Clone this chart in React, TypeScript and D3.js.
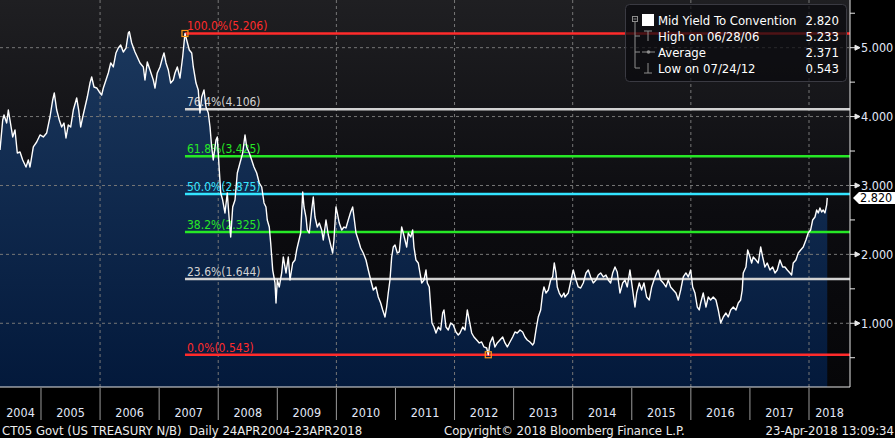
import { useEffect, useRef } from "react"
import * as d3 from "d3"

// Decimal year of every reading, 24 Apr 2004 .. 23 Apr 2018
const yearFrac = [
  2004.306, 2004.352, 2004.374, 2004.419, 2004.447, 2004.475, 2004.521, 2004.56, 2004.599, 2004.645,
  2004.69, 2004.746, 2004.785, 2004.814, 2004.87, 2004.927, 2004.983, 2005.039, 2005.096, 2005.152,
  2005.198, 2005.225, 2005.266, 2005.31, 2005.35, 2005.389, 2005.423, 2005.462, 2005.503, 2005.547,
  2005.604, 2005.638, 2005.672, 2005.706, 2005.745, 2005.784, 2005.829, 2005.858, 2005.897, 2005.943,
  2005.987, 2006.027, 2006.055, 2006.1, 2006.139, 2006.18, 2006.224, 2006.269, 2006.308, 2006.349,
  2006.393, 2006.439, 2006.478, 2006.495, 2006.535, 2006.591, 2006.63, 2006.676,
  2006.732, 2006.76, 2006.799, 2006.845, 2006.901, 2006.93, 2006.968, 2007.014, 2007.06, 2007.082,
  2007.116, 2007.155, 2007.195, 2007.239, 2007.268, 2007.307, 2007.353, 2007.398, 2007.437, 2007.466,
  2007.51, 2007.551, 2007.578, 2007.624, 2007.662, 2007.691, 2007.72, 2007.759, 2007.793, 2007.832,
  2007.861, 2007.889, 2007.916, 2007.962, 2007.984, 2008.018, 2008.042, 2008.075, 2008.114, 2008.153,
  2008.187, 2008.211, 2008.245, 2008.284, 2008.323, 2008.368, 2008.414, 2008.453, 2008.482, 2008.526,
  2008.566, 2008.605, 2008.651, 2008.695, 2008.736, 2008.775, 2008.808, 2008.83, 2008.864, 2008.888,
  2008.922, 2008.961, 2008.978, 2009.0, 2009.033, 2009.074,
  2009.101, 2009.147, 2009.186, 2009.215, 2009.26, 2009.299, 2009.328, 2009.355, 2009.396, 2009.43,
  2009.452, 2009.485, 2009.507, 2009.541, 2009.582, 2009.609, 2009.638, 2009.677, 2009.711, 2009.751,
  2009.778, 2009.824, 2009.863, 2009.903, 2009.937, 2009.959, 2009.993, 2010.015, 2010.049, 2010.09,
  2010.129, 2010.162, 2010.201, 2010.242, 2010.276, 2010.298, 2010.332, 2010.371, 2010.411, 2010.455,
  2010.501, 2010.54, 2010.581, 2010.625, 2010.67, 2010.709, 2010.75, 2010.784, 2010.823, 2010.851,
  2010.878, 2010.907, 2010.936, 2010.963, 2010.992, 2011.031, 2011.065, 2011.105, 2011.132, 2011.161,
  2011.19, 2011.217, 2011.258, 2011.291, 2011.313, 2011.347, 2011.386, 2011.415,
  2011.444, 2011.483, 2011.517, 2011.539, 2011.572, 2011.596, 2011.618, 2011.652, 2011.686, 2011.725,
  2011.765, 2011.799, 2011.821, 2011.855, 2011.894, 2011.935, 2011.979, 2012.024, 2012.063, 2012.092,
  2012.138, 2012.177, 2012.216, 2012.249, 2012.29, 2012.329, 2012.375, 2012.419, 2012.459, 2012.498,
  2012.544, 2012.571, 2012.6, 2012.645, 2012.684, 2012.723, 2012.769, 2012.815, 2012.854, 2012.893,
  2012.938, 2012.984, 2013.023, 2013.062, 2013.108, 2013.153, 2013.192, 2013.231, 2013.277, 2013.323,
  2013.345, 2013.378, 2013.417, 2013.458, 2013.492, 2013.514, 2013.548, 2013.587, 2013.627, 2013.661,
  2013.688, 2013.717, 2013.739, 2013.773, 2013.813, 2013.852,
  2013.869, 2013.925, 2013.983, 2014.01, 2014.055, 2014.094, 2014.135, 2014.179, 2014.225, 2014.264,
  2014.304, 2014.348, 2014.394, 2014.433, 2014.473, 2014.518, 2014.563, 2014.602, 2014.643, 2014.677,
  2014.716, 2014.754, 2014.8, 2014.846, 2014.885, 2014.924, 2014.969, 2015.015, 2015.054, 2015.083,
  2015.127, 2015.167, 2015.206, 2015.252, 2015.296, 2015.337, 2015.376, 2015.421, 2015.448, 2015.489,
  2015.533, 2015.579, 2015.618, 2015.658, 2015.702, 2015.748, 2015.787, 2015.828, 2015.872, 2015.917,
  2015.956, 2015.997, 2016.031, 2016.07, 2016.109, 2016.142,
  2016.166, 2016.21, 2016.256, 2016.295, 2016.335, 2016.379, 2016.425, 2016.464, 2016.505, 2016.549,
  2016.594, 2016.633, 2016.674, 2016.718, 2016.764, 2016.803, 2016.843, 2016.87, 2016.887, 2016.933,
  2016.962, 2017.001, 2017.029, 2017.056, 2017.102, 2017.141, 2017.182, 2017.216, 2017.254, 2017.293,
  2017.339, 2017.385, 2017.424, 2017.463, 2017.508, 2017.554, 2017.593, 2017.632, 2017.678, 2017.706,
  2017.733, 2017.779, 2017.818, 2017.859, 2017.903, 2017.948, 2017.987, 2018.028, 2018.062, 2018.101,
  2018.13, 2018.157, 2018.185, 2018.214, 2018.241, 2018.27, 2018.299, 2018.309,
]

// Mid yield (%) at each reading
const yields = [
  3.515, 3.95, 4.023, 3.907, 4.095, 3.95, 3.704, 3.805, 3.471, 3.486,
  3.37, 3.268, 3.37, 3.268, 3.559, 3.631, 3.733, 3.704, 3.762, 3.994,
  4.241, 4.342, 4.095, 3.95, 3.849, 3.907, 3.689, 3.878, 3.849, 4.095,
  4.27, 4.095, 3.849, 3.994, 4.139, 4.284, 4.487, 4.574, 4.429, 4.415,
  4.357, 4.313, 4.415, 4.531, 4.633, 4.778, 4.72, 4.923, 4.995, 5.039,
  4.937, 4.995, 5.213, 5.233, 5.068, 4.937, 4.865, 4.778,
  4.72, 4.531, 4.792, 4.676, 4.531, 4.415, 4.633, 4.72, 4.865, 4.923,
  4.778, 4.676, 4.487, 4.531, 4.633, 4.72, 4.56, 4.865, 5.206, 5.111,
  4.966, 4.923, 4.72, 4.487, 4.386, 4.052, 4.284, 4.386, 4.139, 4.052,
  3.849, 3.559, 3.37, 3.66, 3.704, 3.225, 2.891, 2.789, 2.601, 2.891,
  2.499, 2.252, 2.688, 2.789, 3.181, 3.326, 3.471, 3.733, 3.559, 3.471,
  3.37, 3.268, 3.181, 3.036, 2.978, 2.746, 2.688, 2.499, 2.397, 2.165,
  1.773, 1.585, 1.294, 1.628, 1.527, 1.73,
  1.962, 1.73, 1.962, 1.628, 1.875, 1.918, 2.064, 2.165, 2.31, 2.905,
  2.688, 2.542, 2.354, 2.31, 2.644, 2.833, 2.542, 2.397, 2.455, 2.354,
  2.209, 2.499, 2.281, 2.136, 2.02, 2.209, 2.688, 2.601, 2.455, 2.354,
  2.397, 2.383, 2.499, 2.615, 2.688, 2.542, 2.31, 2.209, 2.093, 2.02,
  1.918, 1.773, 1.628, 1.483, 1.527, 1.381, 1.294, 1.193, 1.091, 1.236,
  1.439, 1.628, 1.962, 2.107, 2.136, 2.02, 2.035, 2.397, 2.31, 2.209,
  2.107, 2.31, 2.252, 2.354, 2.107, 1.918, 1.875, 1.73,
  1.585, 1.628, 1.773, 1.585, 1.527, 1.236, 1.004, 0.946, 0.859, 0.946,
  0.902, 1.149, 1.193, 0.946, 0.902, 1.004, 0.975, 0.873, 0.83, 0.859,
  0.946, 0.902, 1.193, 1.047, 0.859, 0.801, 0.757, 0.714, 0.728, 0.656,
  0.641, 0.543, 0.714, 0.801, 0.656, 0.714, 0.757, 0.801, 0.714, 0.656,
  0.728, 0.801, 0.873, 0.859, 0.902, 0.873, 0.801, 0.757, 0.728, 0.685,
  0.714, 0.902, 1.091, 1.193, 1.439, 1.527, 1.439, 1.483, 1.628, 1.672,
  1.875, 1.73, 1.527, 1.439, 1.381, 1.439,
  1.381, 1.439, 1.672, 1.773, 1.628, 1.527, 1.512, 1.585, 1.73, 1.773,
  1.672, 1.585, 1.628, 1.701, 1.73, 1.672, 1.701, 1.628, 1.585, 1.73,
  1.817, 1.744, 1.439, 1.585, 1.628, 1.527, 1.773, 1.483, 1.236, 1.439,
  1.585, 1.483, 1.585, 1.381, 1.338, 1.527, 1.628, 1.73, 1.773, 1.628,
  1.585, 1.527, 1.628, 1.527, 1.483, 1.439, 1.338, 1.483, 1.672, 1.73,
  1.672, 1.773, 1.527, 1.439, 1.236, 1.193,
  1.294, 1.439, 1.236, 1.381, 1.338, 1.381, 1.338, 1.193, 1.004, 1.091,
  1.149, 1.091, 1.193, 1.236, 1.193, 1.294, 1.338, 1.483, 1.73, 1.817,
  2.064, 1.962, 1.875, 1.962, 1.918, 1.875, 2.107, 1.962, 1.817, 1.875,
  1.773, 1.817, 1.73, 1.773, 1.918, 1.817, 1.817, 1.773, 1.73, 1.701,
  1.875, 1.918, 2.02, 2.064, 2.107, 2.209, 2.31, 2.354, 2.499, 2.542,
  2.644, 2.601, 2.673, 2.615, 2.644, 2.601, 2.717, 2.82,
]

const xDomain = [2004.306, 2018.694]
const yDomain = [0.075, 5.692]
const years = [2004, 2005, 2006, 2007, 2008, 2009, 2010, 2011, 2012, 2013, 2014, 2015, 2016, 2017, 2018]
const gridYears = [2006, 2008, 2010, 2012, 2014, 2016, 2018]
const yTicks = [1, 2, 3, 4, 5]
const yMinorTicks = [0.5, 1.5, 2.5, 3.5, 4.5, 5.5]

// Fibonacci retracement from the 2007 high to the 2012 low
const fibRatios = ["100.0%", "76.4%", "61.8%", "50.0%", "38.2%", "23.6%", "0.0%"]
const fibValues = [5.206, 4.106, 3.425, 2.875, 2.325, 1.644, 0.543]
const fibColors = ["#ff2b2b", "#d2d2d2", "#26e826", "#33e4ff", "#26e826", "#d2d2d2", "#ff2b2b"]
const fibAnchors = [
  { t: 2007.437, v: 5.206 },
  { t: 2012.571, v: 0.543 },
]

const legendLabels = ["Mid Yield To Convention", "High on 06/28/06", "Average", "Low on 07/24/12"]
const legendValues = ["2.820", "5.233", "2.371", "0.543"]
const lastValue = 2.82

const FONT = "'DejaVu Sans Condensed', 'DejaVu Sans', sans-serif"
const AXIS_TEXT = "#e2e8f8"

export default function App() {
  const svgRef = useRef<SVGSVGElement>(null)

  useEffect(() => {
    if (!svgRef.current) return
    const svg = d3.select(svgRef.current)
    svg.selectAll("*").remove()

    const width = 850
    const height = 387
    const x = d3.scaleLinear().domain(xDomain).range([0, width])
    const y = d3.scaleLinear().domain(yDomain).range([height, 0])
    const data = d3.zip(yearFrac, yields)

    svg.append("rect").attr("width", 895).attr("height", 438).attr("fill", "#000")

    const defs = svg.append("defs")
    const bg = defs.append("linearGradient").attr("id", "bgGrad").attr("x1", 0).attr("y1", 0).attr("x2", 0).attr("y2", 1)
    bg.append("stop").attr("offset", 0).attr("stop-color", "#1f1f22")
    bg.append("stop").attr("offset", 0.55).attr("stop-color", "#0c0c10")
    bg.append("stop").attr("offset", 1).attr("stop-color", "#060608")

    const ag = defs
      .append("linearGradient")
      .attr("id", "areaGrad")
      .attr("gradientUnits", "userSpaceOnUse")
      .attr("x1", 0)
      .attr("y1", 0)
      .attr("x2", 0)
      .attr("y2", height)
    ag.append("stop").attr("offset", 0).attr("stop-color", "#1d3a60")
    ag.append("stop").attr("offset", 1).attr("stop-color", "#03193b")

    defs.append("clipPath").attr("id", "plotClip").append("rect").attr("width", width).attr("height", height)

    // Plot background
    svg.append("rect").attr("width", width).attr("height", height).attr("fill", "url(#bgGrad)")

    const plot = svg.append("g").attr("clip-path", "url(#plotClip)")

    // Area under the yield
    const area = d3
      .area<[number, number]>()
      .x((d) => x(d[0]))
      .y0(height)
      .y1((d) => y(d[1]))
    plot.append("path").datum(data).attr("d", area).attr("fill", "url(#areaGrad)")

    // Dashed grid
    const gridColor = "#777"
    plot
      .selectAll(".hgrid")
      .data(yTicks)
      .enter()
      .append("line")
      .attr("x1", 0)
      .attr("x2", width)
      .attr("y1", (d) => y(d))
      .attr("y2", (d) => y(d))
      .attr("stroke", gridColor)
      .attr("stroke-dasharray", "3,3")
    plot
      .selectAll(".vgrid")
      .data(gridYears)
      .enter()
      .append("line")
      .attr("x1", (d) => x(d))
      .attr("x2", (d) => x(d))
      .attr("y1", 0)
      .attr("y2", height)
      .attr("stroke", gridColor)
      .attr("stroke-dasharray", "3,3")

    // Fibonacci levels
    const fibStart = x(fibAnchors[0].t)
    fibValues.forEach((v, i) => {
      plot
        .append("line")
        .attr("x1", fibStart)
        .attr("x2", width)
        .attr("y1", y(v))
        .attr("y2", y(v))
        .attr("stroke", fibColors[i])
        .attr("stroke-width", 2.5)
      plot
        .append("text")
        .attr("x", fibStart + 2)
        .attr("y", y(v) - 3)
        .attr("fill", fibColors[i])
        .style("font-family", FONT)
        .style("font-size", "12px")
        .text(`${fibRatios[i]}(${v.toFixed(3)})`)
    })

    // Yield line
    const line = d3
      .line<[number, number]>()
      .x((d) => x(d[0]))
      .y((d) => y(d[1]))
    plot
      .append("path")
      .datum(data)
      .attr("d", line)
      .attr("fill", "none")
      .attr("stroke", "#fff")
      .attr("stroke-width", 1.4)
      .attr("stroke-linejoin", "round")

    // High / low anchors
    fibAnchors.forEach((a) => {
      plot
        .append("rect")
        .attr("x", x(a.t) - 3)
        .attr("y", y(a.v) - 3)
        .attr("width", 6)
        .attr("height", 6)
        .attr("fill", "none")
        .attr("stroke", "#ff9a1a")
        .attr("stroke-width", 1.2)
    })

    // Frame
    svg.append("line").attr("x1", width).attr("x2", width).attr("y1", 0).attr("y2", height).attr("stroke", "#e6e6e6")
    svg.append("line").attr("x1", 0).attr("x2", width).attr("y1", height).attr("y2", height).attr("stroke", "#e6e6e6")

    // Right axis
    svg
      .selectAll(".minor")
      .data(yMinorTicks)
      .enter()
      .append("line")
      .attr("x1", width)
      .attr("x2", width + 5)
      .attr("y1", (d) => y(d))
      .attr("y2", (d) => y(d))
      .attr("stroke", "#e6e6e6")
    const major = svg.selectAll(".major").data(yTicks).enter().append("g").attr("transform", (d) => `translate(${width},${y(d)})`)
    major.append("path").attr("d", "M0,0H5M5,-2.5L10,0L5,2.5Z").attr("stroke", "#e6e6e6").attr("fill", "#e6e6e6")
    major
      .append("text")
      .attr("x", 11)
      .attr("y", 4.5)
      .attr("fill", AXIS_TEXT)
      .style("font-family", FONT)
      .style("font-size", "12.5px")
      .text((d) => d3.format(".3f")(d))

    // Last value tag
    const ly = y(lastValue)
    svg
      .append("path")
      .attr("d", `M${width + 3},${ly}L${width + 9},${ly - 6}H895V${ly + 6}H${width + 9}Z`)
      .attr("fill", "#fff")
    svg
      .append("text")
      .attr("x", width + 10)
      .attr("y", ly + 4.5)
      .attr("fill", "#000")
      .style("font-family", FONT)
      .style("font-size", "12.5px")
      .text(lastValue.toFixed(3))

    // Year axis
    svg
      .selectAll(".sep")
      .data(years.slice(1))
      .enter()
      .append("line")
      .attr("x1", (d) => x(d))
      .attr("x2", (d) => x(d))
      .attr("y1", height + 1)
      .attr("y2", 420)
      .attr("stroke", "#9a9a9a")
    svg
      .selectAll(".year")
      .data(years)
      .enter()
      .append("text")
      .attr("x", (d) => (Math.max(x(d), 0) + Math.min(x(d + 1), width)) / 2)
      .attr("y", 417)
      .attr("text-anchor", "middle")
      .attr("fill", AXIS_TEXT)
      .style("font-family", FONT)
      .style("font-size", "12.5px")
      .text((d) => d)

    // Legend
    const lg = svg.append("g")
    lg.append("rect")
      .attr("x", 625.5)
      .attr("y", 4.5)
      .attr("width", 221)
      .attr("height", 77)
      .attr("rx", 4)
      .attr("fill", "rgba(10,10,14,0.72)")
      .attr("stroke", "#3a3a42")
    const iconColor = "#8d8d8d"
    const rowY = (i: number) => 20 + i * 16
    lg.append("rect").attr("x", 632.5).attr("y", 16.5).attr("width", 5).attr("height", 5).attr("fill", "none").attr("stroke", iconColor)
    lg.append("line").attr("x1", 633.5).attr("x2", 636.5).attr("y1", 19).attr("y2", 19).attr("stroke", iconColor)
    lg.append("rect").attr("x", 642).attr("y", 14).attr("width", 12).attr("height", 12).attr("fill", "#fff")
    lg.append("path")
      .attr("d", `M635,22V${rowY(3)}H640M635,${rowY(1)}H640M635,${rowY(2)}H640`)
      .attr("fill", "none")
      .attr("stroke", iconColor)
    lg.append("path")
      .attr("d", `M644,${rowY(1) - 5}H652M648,${rowY(1) - 5}V${rowY(1) + 5}`)
      .attr("stroke", iconColor)
      .attr("fill", "none")
    lg.append("path").attr("d", `M642,${rowY(2)}H655`).attr("stroke", iconColor)
    lg.append("circle").attr("cx", 648.5).attr("cy", rowY(2)).attr("r", 1.8).attr("fill", iconColor)
    lg.append("path")
      .attr("d", `M644,${rowY(3) + 5}H652M648,${rowY(3) - 5}V${rowY(3) + 5}`)
      .attr("stroke", iconColor)
      .attr("fill", "none")
    legendLabels.forEach((label, i) => {
      lg.append("text")
        .attr("x", 658)
        .attr("y", rowY(i) + 5)
        .attr("fill", "#fff")
        .style("font-family", FONT)
        .style("font-size", "13px")
        .text(label)
      lg.append("text")
        .attr("x", 839)
        .attr("y", rowY(i) + 5)
        .attr("text-anchor", "end")
        .attr("fill", "#fff")
        .style("font-family", FONT)
        .style("font-size", "13px")
        .text(legendValues[i])
    })

    // Footer
    const footer = [
      { x: 2, anchor: "start", text: "CT05 Govt (US TREASURY N/B)  Daily 24APR2004-23APR2018" },
      { x: 444, anchor: "start", text: "Copyright\u00a9 2018 Bloomberg Finance L.P." },
      { x: 894, anchor: "end", text: "23-Apr-2018 13:09:34" },
    ]
    footer.forEach((f) => {
      svg
        .append("text")
        .attr("x", f.x)
        .attr("y", 434.5)
        .attr("text-anchor", f.anchor)
        .attr("fill", "#ececec")
        .attr("xml:space", "preserve")
        .style("white-space", "pre")
        .style("font-family", FONT)
        .style("font-size", "13px")
        .text(f.text)
    })
  }, [])

  return (
    <>
      <style>{"body{margin:0;background:#000}"}</style>
      <svg ref={svgRef} width={895} height={438} style={{ display: "block" }}></svg>
    </>
  )
}
